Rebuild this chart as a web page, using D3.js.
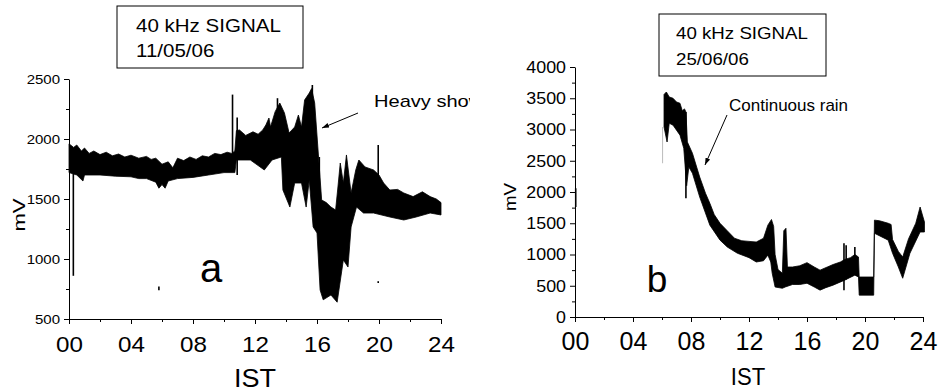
<!DOCTYPE html>
<html>
<head>
<meta charset="utf-8">
<script src="https://cdn.jsdelivr.net/npm/d3@7"></script>
<style>
  body { margin: 0; background: #fff; }
  svg { font-family: "Liberation Sans", Arial, sans-serif; }
</style>
</head>
<body>
<svg id="chart" width="938" height="392"></svg>
<script>
// panel a, 11/05/06 : upper and lower edge of the signal trace (hours IST, mV)
const aTopTime = [0, 0.3, 0.5, 0.8, 1.0, 1.3, 1.6, 2.0, 2.4, 2.8, 3.2, 3.6, 4.0, 4.5, 5.0, 5.3, 5.6, 6.0, 6.4, 6.7, 7.0, 7.4, 7.8, 8.2, 8.6, 9.0, 9.4, 9.8, 10.2, 10.5, 10.7, 10.8, 11.0, 11.4, 11.87, 12.2, 12.5, 12.7, 12.9, 13.0, 13.3, 13.6, 13.9, 14.2, 14.56, 14.8, 15.0, 15.2, 15.5, 15.65, 15.85, 16.1, 16.3, 16.6, 16.9, 17.2, 17.35, 17.5, 17.7, 17.9, 18.2, 18.5, 18.7, 19.1, 19.65, 20.0, 20.3, 20.7, 21.2, 21.6, 22.2, 22.8, 23.3, 23.7, 24.0];
const aTopVal  = [1960, 1930, 1950, 1900, 1925, 1880, 1900, 1870, 1890, 1860, 1875, 1850, 1865, 1840, 1855, 1830, 1840, 1790, 1810, 1760, 1840, 1820, 1850, 1830, 1860, 1850, 1880, 1870, 1890, 1880, 1900, 2070, 2075, 2030, 2060, 2040, 2075, 2117, 2175, 2100, 2228, 2300, 2217, 2050, 2100, 2200, 2100, 2325, 2383, 2420, 2300, 1850, 1492, 1470, 1433, 1408, 1600, 1800, 1633, 1867, 1550, 1742, 1825, 1767, 1742, 1700, 1633, 1575, 1580, 1550, 1520, 1560, 1520, 1500, 1470];
const aBotTime = [0, 0.5, 0.9, 1.0, 2.0, 3.0, 4.0, 4.5, 5.0, 5.6, 5.8, 6.0, 6.2, 6.4, 7.0, 8.0, 9.0, 10.0, 10.7, 10.8, 11.7, 12.6, 13.1, 13.7, 13.8, 14.25, 14.56, 15.0, 15.3, 15.5, 15.75, 16.0, 16.2, 16.4, 16.9, 17.3, 17.7, 18.0, 18.2, 18.55, 19.0, 19.65, 20.7, 21.6, 22.4, 23.3, 24.0];
const aBotVal  = [1720, 1700, 1650, 1700, 1700, 1690, 1685, 1670, 1670, 1640, 1590, 1620, 1590, 1650, 1670, 1680, 1700, 1720, 1720, 1825, 1825, 1742, 1825, 1850, 1575, 1433, 1633, 1633, 1433, 1658, 1267, 1217, 742, 660, 700, 640, 992, 933, 1267, 1433, 1383, 1383, 1350, 1325, 1350, 1383, 1367];
const aSpikeTime = [0.28, 5.8, 10.55, 10.85, 13.45, 15.7, 16.15, 19.95, 19.95];
const aSpikeLow  = [860, 740, 1800, 1700, 2000, 2000, 1200, 1700, 800];
const aSpikeHigh = [1800, 770, 2370, 2180, 2340, 2450, 1850, 1950, 815];

// panel b, 25/06/06
const bTopTime = [6.14, 6.3, 6.5, 6.76, 7.0, 7.24, 7.4, 7.55, 7.65, 7.75, 8.1, 8.6, 9.0, 9.3, 9.6, 10.0, 10.5, 11.0, 11.5, 12.0, 12.5, 13.0, 13.3, 13.55, 13.7, 13.8, 14.0, 14.3, 14.4, 14.55, 14.65, 15.0, 15.5, 16.0, 16.5, 16.9, 17.4, 17.8, 18.3, 18.6, 19.0, 19.3, 19.55, 19.6, 20.6, 20.65, 21.0, 21.6, 21.8, 21.9, 22.3, 22.6, 23.0, 23.5, 23.8, 24.1];
const bTopVal  = [3560, 3600, 3520, 3500, 3440, 3420, 3300, 3330, 3280, 2800, 2620, 2240, 1980, 1820, 1640, 1500, 1380, 1260, 1220, 1210, 1200, 1260, 1470, 1560, 1450, 1000, 760, 700, 1380, 1420, 800, 800, 820, 870, 800, 750, 800, 840, 880, 920, 950, 1000, 960, 640, 640, 1550, 1540, 1500, 1480, 1240, 1050, 960, 1250, 1500, 1760, 1520];
const bBotTime = [6.14, 6.35, 6.5, 6.76, 7.24, 7.5, 7.7, 7.85, 8.1, 8.6, 9.3, 10.0, 10.5, 11.2, 12.0, 12.5, 13.0, 13.3, 13.5, 13.6, 13.8, 14.3, 14.5, 15.0, 15.5, 16.0, 16.5, 16.9, 17.3, 17.8, 18.6, 19.3, 19.55, 19.6, 20.6, 20.65, 21.6, 21.9, 22.3, 22.6, 23.1, 23.8, 24.1];
const bBotVal  = [3040, 2800, 3100, 3070, 2910, 2700, 2100, 2400, 2300, 1920, 1470, 1230, 1120, 1020, 950, 880, 900, 990, 880, 700, 480, 460, 480, 520, 520, 540, 480, 430, 470, 510, 590, 670, 640, 350, 350, 1340, 1230, 1020, 800, 620, 1020, 1360, 1360];
const bSpikeTime = [0.05, 7.65, 18.55, 18.7, 19.3];
const bSpikeLow  = [1760, 1900, 430, 600, 700];
const bSpikeHigh = [2060, 3280, 1180, 1150, 1120];
const bFaintTime = 6.04, bFaintLow = 2460, bFaintHigh = 3040;

const hourTicks = [0, 4, 8, 12, 16, 20, 24];
const hourMinor = [2, 6, 10, 14, 18, 22];
const aYTicks = [500, 1000, 1500, 2000, 2500];
const aYMinor = [750, 1250, 1750, 2250];
const bYTicks = [0, 500, 1000, 1500, 2000, 2500, 3000, 3500, 4000];
const bYMinor = [250, 750, 1250, 1750, 2250, 2750, 3250, 3750];

const svg = d3.select("#chart");

// widen text to match the stretched look of the scan
function stretch(sel, sx) {
  sel.each(function () {
    const w = this.getComputedTextLength();
    d3.select(this).attr("textLength", w * sx).attr("lengthAdjust", "spacingAndGlyphs");
  });
}

function panel(cfg) {
  const x = d3.scaleLinear().domain([0, 24]).range([cfg.x0, cfg.x1]);
  const y = d3.scaleLinear().domain(cfg.yDomain).range([cfg.yBottom, cfg.yTop]);
  const g = svg.append("g");

  // trace outline: upper edge left to right, lower edge back
  const top = cfg.topTime.map((t, i) => [x(t), y(cfg.topVal[i])]);
  const bot = cfg.botTime.map((t, i) => [x(t), y(cfg.botVal[i])]).reverse();
  g.append("path").attr("d", d3.line()(top.concat(bot)) + "Z")
    .attr("fill", "#000").attr("stroke", "#000").attr("stroke-width", 0.8);

  cfg.spikeTime.forEach((t, i) => {
    g.append("line")
      .attr("x1", x(t)).attr("x2", x(t))
      .attr("y1", y(cfg.spikeLow[i])).attr("y2", y(cfg.spikeHigh[i]))
      .attr("stroke", "#000").attr("stroke-width", 1.6);
  });

  // x axis
  const xAxis = g.append("g").attr("transform", `translate(0,${cfg.yBottom})`)
    .call(d3.axisBottom(x).tickValues(hourTicks).tickFormat(d3.format("02d")).tickSizeInner(5).tickSizeOuter(0).tickPadding(cfg.xPad));
  xAxis.selectAll("text").attr("font-size", cfg.xFont).attr("fill", "#000");
  stretch(xAxis.selectAll("text"), cfg.xSx);
  g.append("g").attr("transform", `translate(0,${cfg.yBottom})`)
    .call(d3.axisBottom(x).tickValues(hourMinor).tickFormat("").tickSizeInner(3).tickSizeOuter(0))
    .select(".domain").remove();

  // y axis
  const yAxis = g.append("g").attr("transform", `translate(${cfg.x0},0)`)
    .call(d3.axisLeft(y).tickValues(cfg.yTicks).tickFormat(d3.format("d")).tickSizeInner(5).tickSizeOuter(0).tickPadding(4));
  yAxis.selectAll("text").attr("font-size", cfg.yFont).attr("fill", "#000");
  stretch(yAxis.selectAll("text"), cfg.ySx);
  g.append("g").attr("transform", `translate(${cfg.x0},0)`)
    .call(d3.axisLeft(y).tickValues(cfg.yMinor).tickFormat("").tickSizeInner(3).tickSizeOuter(0))
    .select(".domain").remove();
  g.selectAll(".domain, .tick line").attr("stroke", "#000").attr("stroke-width", 1);

  // axis titles
  const ist = g.append("text").attr("x", cfg.istX).attr("y", cfg.istY)
    .attr("text-anchor", "middle").attr("font-size", cfg.istFont).text("IST");
  stretch(ist, cfg.istSx);
  const mv = g.append("text").attr("transform", `translate(${cfg.mvX},${cfg.mvY}) rotate(-90)`)
    .attr("text-anchor", "middle").attr("font-size", cfg.mvFont).text("mV");
  stretch(mv, cfg.mvSx);

  // panel letter
  g.append("text").attr("x", cfg.letterX).attr("y", cfg.letterY)
    .attr("text-anchor", "middle").attr("font-size", cfg.letterFont).text(cfg.letter);

  // title box
  g.append("rect").attr("x", cfg.box[0]).attr("y", cfg.box[1])
    .attr("width", cfg.box[2]).attr("height", cfg.box[3])
    .attr("fill", "none").attr("stroke", "#000").attr("stroke-width", 1);
  const t1 = g.append("text").attr("x", cfg.boxTextX).attr("y", cfg.boxLine1)
    .attr("font-size", cfg.boxFont).text("40 kHz SIGNAL");
  const t2 = g.append("text").attr("x", cfg.boxTextX).attr("y", cfg.boxLine2)
    .attr("font-size", cfg.boxFont).text(cfg.date);
  stretch(t1, cfg.boxSx);
  stretch(t2, cfg.boxSx);
  return { g: g, x: x, y: y };
}

svg.append("defs").append("marker")
  .attr("id", "arrowhead").attr("viewBox", "0 0 10 10")
  .attr("refX", 10).attr("refY", 5).attr("orient", "auto")
  .attr("markerWidth", 7).attr("markerHeight", 7)
  .append("polygon").attr("points", "0 1.5, 10 5, 0 8.5").attr("fill", "#000");

svg.select("defs").append("clipPath").attr("id", "clipA")
  .append("rect").attr("x", 0).attr("y", 0).attr("width", 470).attr("height", 392);

const pa = panel({
  x0: 69, x1: 441, yTop: 79, yBottom: 319, yDomain: [500, 2500],
  topTime: aTopTime, topVal: aTopVal, botTime: aBotTime, botVal: aBotVal,
  spikeTime: aSpikeTime, spikeLow: aSpikeLow, spikeHigh: aSpikeHigh,
  yTicks: aYTicks, yMinor: aYMinor, yFont: 12.5, ySx: 1.2,
  xFont: 22, xSx: 1.1, xPad: 12,
  istX: 255, istY: 387, istFont: 25, istSx: 1.08,
  mvX: 25, mvY: 215, mvFont: 17, mvSx: 1.3,
  letter: "a", letterX: 211, letterY: 282, letterFont: 40,
  box: [117, 6, 186, 62], boxTextX: 136, boxLine1: 32, boxLine2: 57, boxFont: 18, boxSx: 1.14,
  date: "11/05/06"
});

pa.g.append("text").attr("x", 374).attr("y", 107).attr("font-size", 17)
  .attr("clip-path", "url(#clipA)").text("Heavy shower")
  .call(s => stretch(s, 1.18));
pa.g.append("line").attr("x1", 358).attr("y1", 113).attr("x2", 322).attr("y2", 128)
  .attr("stroke", "#000").attr("stroke-width", 1).attr("marker-end", "url(#arrowhead)");

const pb = panel({
  x0: 575, x1: 923, yTop: 67, yBottom: 317, yDomain: [0, 4000],
  topTime: bTopTime, topVal: bTopVal, botTime: bBotTime, botVal: bBotVal,
  spikeTime: bSpikeTime, spikeLow: bSpikeLow, spikeHigh: bSpikeHigh,
  yTicks: bYTicks, yMinor: bYMinor, yFont: 16.5, ySx: 1.08,
  xFont: 25, xSx: 1.0, xPad: 10,
  istX: 748, istY: 385, istFont: 24, istSx: 0.92,
  mvX: 516, mvY: 197, mvFont: 17, mvSx: 1.1,
  letter: "b", letterX: 657, letterY: 292, letterFont: 37,
  box: [659, 14, 167, 62], boxTextX: 676, boxLine1: 39, boxLine2: 65, boxFont: 17, boxSx: 1.1,
  date: "25/06/06"
});

// faint first sample of panel b
pb.g.append("line").attr("x1", pb.x(bFaintTime)).attr("x2", pb.x(bFaintTime))
  .attr("y1", pb.y(bFaintHigh)).attr("y2", pb.y(bFaintLow))
  .attr("stroke", "#bbb").attr("stroke-width", 1);

pb.g.append("text").attr("x", 729).attr("y", 111).attr("font-size", 17).text("Continuous rain");
pb.g.append("line").attr("x1", 727).attr("y1", 115).attr("x2", 705).attr("y2", 165)
  .attr("stroke", "#000").attr("stroke-width", 1).attr("marker-end", "url(#arrowhead)");
</script>
</body>
</html>
